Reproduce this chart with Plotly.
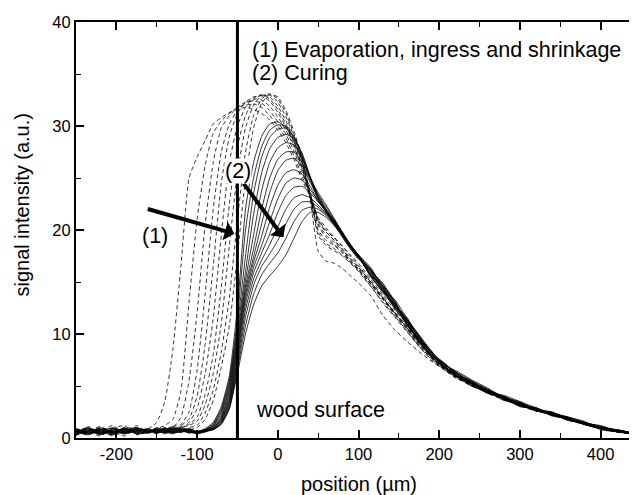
import plotly.graph_objects as go

# ---------------- data ----------------
position = [-250, -235, -220, -205, -190, -175,
            -160, -150, -140, -130, -120, -110, -100, -90, -80, -70, -60, -50, -40,
            -30, -20, -10, 0, 10, 20, 30, 40, 50, 60, 70, 80, 90, 100,
            115, 130, 145, 160, 175, 190, 205, 220, 240, 260, 280, 300, 320, 340,
            360, 380, 400, 420, 440]

# dashed profiles: evaporation, ingress and shrinkage
d1 = [0.2, 1.1, 0.4, 0.9, 1.2, 0.3,
      0.9, 1.5, 3.5, 8.5, 16.5, 25.0, 27.0, 28.6, 30.2, 30.8, 31.3, 31.6, 31.8, 31.6, 31.2, 30.6, 29.6, 28.4, 26.8, 24.8, 23.2, 21.0, 20.0, 19.2, 18.4, 17.6, 16.8,
      15.3, 13.8, 12.3, 10.8, 9.3, 7.9, 6.9, 6.0, 5.2, 4.4, 3.8, 3.2, 2.7, 2.3, 1.8, 1.4, 1.0, 0.6, 0.4]
d2 = [0.7, 0.3, 0.8, 0.2, 0.9, 1.0,
      0.6, 0.9, 1.2, 1.8, 4.5, 13.0, 21.0, 26.2, 29.3, 30.5, 31.2, 31.8, 32.0, 32.1, 31.8, 31.0, 30.0, 28.8, 27.2, 25.2, 23.4, 21.2, 20.2, 19.3, 18.5, 17.5, 16.6,
      15.1, 13.6, 12.0, 10.6, 9.1, 7.8, 6.8, 5.9, 5.1, 4.5, 3.9, 3.3, 2.8, 2.2, 1.9, 1.3, 0.9, 0.7, 0.4]
d3 = [0.3, 0.8, 0.6, 1.2, 0.5, 0.7,
      0.7, 0.5, 0.9, 1.0, 2.0, 5.5, 12.0, 20.5, 26.5, 29.8, 31.0, 31.8, 32.3, 32.4, 32.2, 31.5, 30.4, 29.2, 27.6, 25.6, 23.4, 20.8, 19.8, 19.0, 18.2, 17.3, 16.5,
      15.0, 13.5, 12.1, 10.7, 9.2, 7.8, 6.7, 6.0, 5.2, 4.3, 3.7, 3.1, 2.6, 2.3, 1.8, 1.4, 1.0, 0.6, 0.5]
d4 = [0.8, 0.5, 1.0, 0.6, 0.2, 0.9,
      0.5, 0.8, 0.6, 1.1, 1.3, 2.5, 6.5, 13.8, 22.0, 27.5, 30.2, 31.5, 32.2, 32.6, 32.5, 31.9, 30.9, 29.6, 28.0, 25.9, 23.5, 20.6, 19.5, 18.8, 18.0, 17.1, 16.3,
      14.9, 13.4, 11.9, 10.5, 9.0, 7.7, 6.8, 5.9, 5.0, 4.5, 3.8, 3.2, 2.7, 2.2, 1.7, 1.3, 0.9, 0.6, 0.4]
d5 = [0.6, 1.0, 0.3, 0.8, 0.7, 0.4,
      0.6, 0.7, 1.0, 0.8, 1.2, 1.8, 4.0, 9.0, 16.5, 24.5, 29.0, 31.2, 32.3, 32.8, 32.9, 32.4, 31.3, 29.9, 28.2, 26.0, 23.2, 20.0, 19.0, 18.5, 17.8, 16.9, 16.1,
      14.6, 13.0, 11.6, 10.2, 8.8, 7.5, 6.7, 5.8, 5.1, 4.4, 3.9, 3.3, 2.8, 2.3, 1.8, 1.4, 1.0, 0.7, 0.4]
d6 = [0.4, 0.7, 1.1, 0.5, 1.0, 0.6,
      0.8, 0.5, 0.7, 1.0, 0.9, 1.5, 2.8, 6.2, 11.5, 19.5, 26.5, 30.0, 31.8, 32.7, 33.0, 32.6, 31.6, 30.2, 28.5, 26.2, 23.4, 20.4, 19.3, 18.6, 17.9, 17.0, 16.2,
      14.8, 13.3, 11.8, 10.4, 8.9, 7.7, 6.7, 6.0, 5.2, 4.3, 3.7, 3.2, 2.7, 2.3, 1.9, 1.4, 0.9, 0.6, 0.5]
d7 = [0.9, 0.6, 0.2, 0.8, 0.6, 1.2,
      0.5, 0.9, 0.6, 0.8, 1.1, 1.3, 2.0, 4.2, 8.0, 14.5, 22.5, 28.0, 31.0, 32.5, 33.0, 32.8, 31.9, 30.5, 28.7, 26.5, 23.7, 21.0, 19.8, 19.0, 18.1, 17.2, 16.4,
      15.0, 13.5, 12.0, 10.6, 9.1, 7.8, 6.8, 6.1, 5.2, 4.5, 3.8, 3.1, 2.6, 2.2, 1.8, 1.3, 1.0, 0.7, 0.4]
d8 = [0.5, 0.8, 0.7, 0.3, 0.9, 0.7,
      0.7, 0.6, 0.9, 0.7, 1.0, 1.2, 1.6, 3.2, 6.2, 11.0, 18.5, 25.5, 29.8, 32.0, 32.9, 33.0, 32.3, 30.9, 29.0, 26.6, 23.2, 19.5, 18.5, 18.0, 17.5, 16.8, 16.0,
      14.6, 13.1, 11.7, 10.3, 8.8, 7.6, 6.6, 5.9, 5.0, 4.4, 3.9, 3.3, 2.8, 2.3, 1.7, 1.4, 0.9, 0.6, 0.4]
d9 = [0.6, 0.4, 0.9, 0.7, 0.5, 0.8,
      0.6, 0.8, 0.5, 0.9, 0.7, 1.0, 1.2, 2.4, 4.6, 8.3, 13.5, 21.0, 27.5, 31.0, 32.6, 33.1, 32.6, 31.2, 29.2, 26.8, 23.0, 18.0, 17.0, 16.8, 16.3, 15.6, 14.9,
      13.7, 11.8, 10.4, 9.3, 8.3, 7.4, 6.6, 5.8, 5.1, 4.5, 3.8, 3.2, 2.7, 2.2, 1.8, 1.3, 1.0, 0.7, 0.5]
d10 = [0.7, 0.9, 0.5, 0.6, 0.8, 0.5,
       0.9, 0.6, 0.8, 0.6, 1.0, 0.8, 1.0, 1.8, 3.6, 6.8, 10.8, 17.5, 25.0, 29.8, 32.2, 33.0, 32.8, 31.5, 29.5, 27.0, 23.5, 19.8, 18.7, 18.2, 17.6, 16.9, 16.2,
       14.8, 13.4, 12.0, 10.6, 9.2, 7.9, 6.9, 6.1, 5.3, 4.4, 3.7, 3.2, 2.6, 2.3, 1.9, 1.5, 1.1, 0.6, 0.4]

# solid profiles: curing
s1 = [0.6, 0.3, 0.8, 0.5, 0.9, 0.4,
      0.7, 0.5, 0.9, 0.6, 0.8, 0.5, 0.6, 0.9, 1.5, 3.0, 6.0, 12.5, 22.0, 26.5, 29.0, 30.2, 30.4, 29.9, 28.5, 26.8, 25.0, 23.6, 22.4, 21.1, 19.8, 18.6, 17.6,
      16.2, 14.6, 13.0, 11.0, 9.4, 8.3, 7.1, 6.0, 5.4, 4.6, 3.8, 3.2, 2.9, 2.2, 1.8, 1.5, 1.0, 0.6, 0.4]
s2 = [0.4, 0.7, 0.5, 1.0, 0.6, 0.8,
      0.5, 0.8, 0.6, 1.0, 0.7, 0.6, 0.5, 0.8, 1.4, 2.8, 5.6, 11.5, 20.0, 25.0, 28.0, 29.6, 30.1, 30.0, 28.9, 27.1, 25.0, 23.4, 22.2, 21.0, 19.7, 18.5, 17.5,
      15.6, 14.0, 12.6, 11.4, 9.8, 7.9, 6.8, 6.3, 5.1, 4.3, 4.0, 3.4, 2.6, 2.4, 2.0, 1.3, 0.9, 0.8, 0.5]
s3 = [0.8, 0.5, 0.6, 0.3, 0.7, 1.0,
      0.6, 0.9, 0.4, 0.7, 0.9, 0.5, 0.7, 0.6, 1.3, 2.6, 5.3, 10.8, 17.5, 23.5, 27.0, 28.9, 29.7, 29.8, 29.0, 27.3, 25.1, 23.3, 22.0, 20.9, 19.5, 18.3, 17.3,
      16.0, 14.8, 12.9, 10.9, 9.3, 8.0, 7.2, 6.4, 5.5, 4.7, 3.7, 3.1, 2.7, 2.5, 1.8, 1.5, 1.1, 0.7, 0.4]
s4 = [0.5, 0.9, 0.4, 0.7, 0.5, 0.8,
      0.8, 0.6, 1.0, 0.5, 0.6, 0.8, 0.5, 0.7, 1.2, 2.4, 5.0, 10.3, 16.0, 21.5, 25.5, 27.8, 28.9, 29.2, 28.8, 27.4, 25.2, 23.2, 21.9, 20.7, 19.6, 18.4, 17.4,
      15.7, 14.2, 13.3, 11.5, 9.9, 8.4, 6.9, 6.0, 5.2, 4.4, 4.1, 3.5, 2.9, 2.1, 1.9, 1.3, 0.9, 0.6, 0.5]
s5 = [0.7, 0.4, 1.0, 0.6, 0.8, 0.5,
      0.5, 0.7, 0.8, 1.1, 0.6, 0.7, 0.6, 0.8, 1.2, 2.2, 4.7, 9.8, 15.2, 19.5, 23.8, 26.5, 27.9, 28.4, 28.2, 27.0, 25.0, 23.0, 21.8, 20.8, 19.4, 18.2, 17.2,
      16.3, 14.5, 12.5, 11.0, 9.5, 7.8, 7.0, 6.5, 5.6, 4.8, 3.9, 3.2, 2.6, 2.3, 1.7, 1.4, 1.2, 0.7, 0.3]
s6 = [0.3, 0.6, 0.8, 0.9, 0.4, 0.7,
      0.9, 0.5, 0.7, 0.6, 1.0, 0.6, 0.4, 0.7, 1.1, 2.0, 4.4, 9.4, 14.6, 18.2, 22.0, 25.0, 26.8, 27.5, 27.5, 26.5, 24.8, 23.0, 21.7, 20.6, 19.5, 18.4, 17.5,
      15.5, 14.1, 12.7, 11.3, 9.7, 8.2, 7.3, 6.1, 5.0, 4.5, 3.6, 3.4, 2.8, 2.4, 2.0, 1.6, 0.8, 0.6, 0.5]
s7 = [0.9, 0.5, 0.7, 0.4, 0.6, 0.9,
      0.6, 0.8, 0.5, 0.9, 0.7, 0.8, 0.5, 0.6, 1.0, 1.9, 4.1, 9.0, 14.2, 17.4, 20.6, 23.6, 25.7, 26.7, 26.9, 26.2, 24.6, 23.1, 21.9, 20.7, 19.7, 18.5, 17.4,
      16.1, 14.9, 13.1, 11.2, 9.2, 8.1, 6.9, 6.2, 5.4, 4.3, 3.9, 3.0, 2.9, 2.2, 1.9, 1.3, 1.0, 0.8, 0.4]
s8 = [0.5, 0.8, 0.3, 0.9, 0.7, 0.6,
      0.7, 0.4, 0.9, 0.8, 0.5, 0.9, 0.6, 0.8, 1.0, 1.8, 3.8, 8.6, 13.8, 16.9, 19.4, 22.2, 24.3, 25.5, 25.8, 25.4, 24.2, 22.8, 21.7, 20.5, 19.3, 18.2, 17.3,
      15.8, 14.3, 12.8, 11.6, 9.6, 7.9, 7.1, 6.0, 5.3, 4.6, 3.8, 3.3, 2.7, 2.5, 1.8, 1.5, 0.9, 0.6, 0.5]
s9 = [0.6, 0.9, 0.6, 0.5, 1.0, 0.4,
      0.5, 0.7, 0.6, 0.4, 0.8, 0.7, 0.5, 0.7, 0.9, 1.7, 3.6, 8.2, 13.4, 16.4, 18.5, 20.8, 23.0, 24.5, 25.0, 24.8, 23.9, 22.8, 21.8, 20.8, 19.6, 18.5, 17.6,
      16.4, 14.4, 12.4, 11.1, 9.8, 8.3, 6.8, 6.3, 5.2, 4.5, 4.0, 3.2, 2.8, 2.2, 1.9, 1.4, 1.1, 0.7, 0.4]
s10 = [0.8, 0.4, 0.7, 0.6, 0.5, 0.9,
       0.6, 1.0, 0.7, 0.5, 0.6, 0.8, 0.4, 0.6, 0.9, 1.6, 3.4, 7.8, 12.9, 15.9, 17.8, 19.6, 21.7, 23.3, 24.1, 24.2, 23.6, 22.7, 21.8, 20.9, 19.8, 18.6, 17.5,
       15.6, 14.7, 13.2, 11.0, 9.4, 8.0, 7.2, 6.2, 5.5, 4.4, 3.8, 3.5, 2.6, 2.4, 1.7, 1.4, 1.0, 0.6, 0.5]
s11 = [0.4, 0.7, 0.9, 0.5, 0.8, 0.6,
       0.8, 0.5, 0.6, 0.9, 0.7, 0.5, 0.6, 0.7, 0.9, 1.5, 3.2, 7.4, 12.3, 15.3, 17.1, 18.6, 20.3, 22.0, 23.1, 23.4, 23.1, 22.4, 21.6, 20.7, 19.6, 18.4, 17.4,
       16.0, 14.1, 12.9, 11.4, 9.5, 8.2, 7.0, 6.1, 5.3, 4.7, 3.9, 3.1, 2.9, 2.3, 2.0, 1.5, 0.9, 0.7, 0.4]
s12 = [0.7, 0.6, 0.4, 0.8, 0.6, 1.0,
       0.5, 0.9, 0.8, 0.6, 0.9, 0.6, 0.5, 0.7, 0.8, 1.4, 3.0, 7.0, 11.6, 14.7, 16.5, 17.7, 19.0, 20.6, 22.0, 22.7, 22.7, 22.2, 21.5, 20.6, 19.5, 18.5, 17.6,
       15.9, 14.5, 12.6, 11.2, 9.9, 8.1, 7.1, 6.4, 5.2, 4.5, 3.7, 3.3, 2.7, 2.3, 1.8, 1.3, 1.0, 0.8, 0.5]
s13 = [0.6, 1.0, 0.5, 0.7, 0.4, 0.8,
       0.7, 0.6, 0.5, 0.8, 0.6, 0.9, 0.6, 0.8, 0.8, 1.4, 2.9, 6.6, 10.8, 13.8, 15.7, 16.8, 17.8, 19.2, 20.8, 21.9, 22.2, 22.0, 21.4, 20.5, 19.6, 18.6, 17.5,
       16.2, 14.2, 13.0, 10.8, 9.6, 8.4, 6.9, 6.0, 5.4, 4.6, 4.0, 3.2, 2.8, 2.4, 1.9, 1.4, 1.1, 0.6, 0.4]
s14 = [0.5, 0.7, 0.8, 0.4, 0.9, 0.5,
       0.6, 0.8, 0.7, 0.5, 0.8, 0.7, 0.5, 0.6, 0.8, 1.3, 2.8, 6.2, 10.0, 12.8, 14.6, 15.6, 16.5, 17.6, 19.2, 20.8, 21.7, 21.7, 21.2, 20.4, 19.5, 18.4, 17.4,
       15.7, 14.6, 12.7, 11.3, 9.3, 8.0, 7.3, 6.3, 5.3, 4.4, 3.8, 3.4, 2.7, 2.2, 1.8, 1.5, 0.9, 0.7, 0.5]

dashed_profiles = [d1, d2, d3, d4, d5, d6, d7, d8, d9, d10]
solid_profiles = [s1, s2, s3, s4, s5, s6, s7, s8, s9, s10, s11, s12, s13, s14]

surface_x = -50
surface_y = [0, 40]

x_tickvals = [-200, -100, 0, 100, 200, 300, 400]
x_ticktext = ["-200", "-100", "0", "100", "200", "300", "400"]
y_tickvals = [0, 10, 20, 30, 40]
y_ticktext = ["0", "10", "20", "30", "40"]

FONT = "Liberation Sans, Arial, Helvetica, sans-serif"

fig = go.Figure()
for prof in dashed_profiles:
    fig.add_trace(go.Scatter(x=position, y=prof, mode="lines",
                             line=dict(color="black", width=0.8, dash="4px,3px",
                                       shape="spline", smoothing=0.5),
                             showlegend=False, hoverinfo="skip"))
for prof in solid_profiles:
    fig.add_trace(go.Scatter(x=position, y=prof, mode="lines",
                             line=dict(color="black", width=0.8,
                                       shape="spline", smoothing=0.5),
                             showlegend=False, hoverinfo="skip"))
fig.add_trace(go.Scatter(x=[surface_x, surface_x], y=surface_y, mode="lines",
                         line=dict(color="black", width=3),
                         showlegend=False, hoverinfo="skip"))

ann_font = dict(family=FONT, size=21.5, color="black")
annotations = [
    dict(x=-53.8, y=19.65, ax=-162.9, ay=22.06, xref="x", yref="y", axref="x", ayref="y",
         text="", showarrow=True, arrowhead=1, arrowwidth=4, arrowsize=0.8, arrowcolor="black"),
    dict(x=7, y=19.3, ax=-43.6, ay=24.6, xref="x", yref="y", axref="x", ayref="y",
         text="", showarrow=True, arrowhead=1, arrowwidth=4, arrowsize=0.8, arrowcolor="black"),
    dict(x=-152, y=19.4, xref="x", yref="y", text="(1)", showarrow=False,
         font=ann_font, xanchor="center", yanchor="middle"),
    dict(x=-49, y=25.7, xref="x", yref="y", text="(2)", showarrow=False,
         font=ann_font, xanchor="center", yanchor="middle", bgcolor="white", borderpad=0),
    dict(x=-35, y=37.3, xref="x", yref="y", text="(1) Evaporation, ingress and shrinkage",
         showarrow=False, font=ann_font, xanchor="left", yanchor="middle"),
    dict(x=-35, y=35.1, xref="x", yref="y", text="(2) Curing",
         showarrow=False, font=ann_font, xanchor="left", yanchor="middle"),
    dict(x=-29, y=2.66, xref="x", yref="y", text="wood surface",
         showarrow=False, font=ann_font, xanchor="left", yanchor="middle"),
    dict(x=0.5, y=0, xref="paper", yref="paper", text="position (µm)", showarrow=False,
         font=dict(family=FONT, size=20, color="black"), xanchor="center", yanchor="middle",
         yshift=-46),
    dict(x=0, y=0.559, xref="paper", yref="paper", text="signal intensity (a.u.)",
         showarrow=False, textangle=-90,
         font=dict(family=FONT, size=20, color="black"), xanchor="center", yanchor="middle",
         xshift=-54),
]

# the page body adds an 8px offset; margins compensate so the plot area
# sits where it does in the reference (right frame just beyond the window)
fig.update_layout(
    width=637, height=495,
    margin=dict(l=68, r=2, t=14, b=65, pad=0),
    paper_bgcolor="white", plot_bgcolor="white",
    font=dict(family=FONT, size=16.5, color="black"),
    showlegend=False,
    annotations=annotations,
    xaxis=dict(range=[-250, 450], tickvals=x_tickvals, ticktext=x_ticktext,
               ticks="inside", ticklen=8, tickwidth=1.5, tickcolor="black",
               showline=True, linewidth=2, linecolor="black", mirror="ticks",
               showgrid=False, zeroline=False,
               minor=dict(dtick=50, tick0=0, ticks="inside", ticklen=5, tickwidth=1.2,
                          tickcolor="black", showgrid=False),
               tickfont=dict(family=FONT, size=16.5, color="black")),
    yaxis=dict(range=[0, 40], tickvals=y_tickvals, ticktext=y_ticktext,
               ticks="inside", ticklen=8, tickwidth=1.5, tickcolor="black",
               showline=True, linewidth=2, linecolor="black", mirror="ticks",
               showgrid=False, zeroline=False,
               minor=dict(dtick=5, tick0=0, ticks="inside", ticklen=5, tickwidth=1.2,
                          tickcolor="black", showgrid=False),
               tickfont=dict(family=FONT, size=16.5, color="black")),
)

fig.write_html("out.html")
